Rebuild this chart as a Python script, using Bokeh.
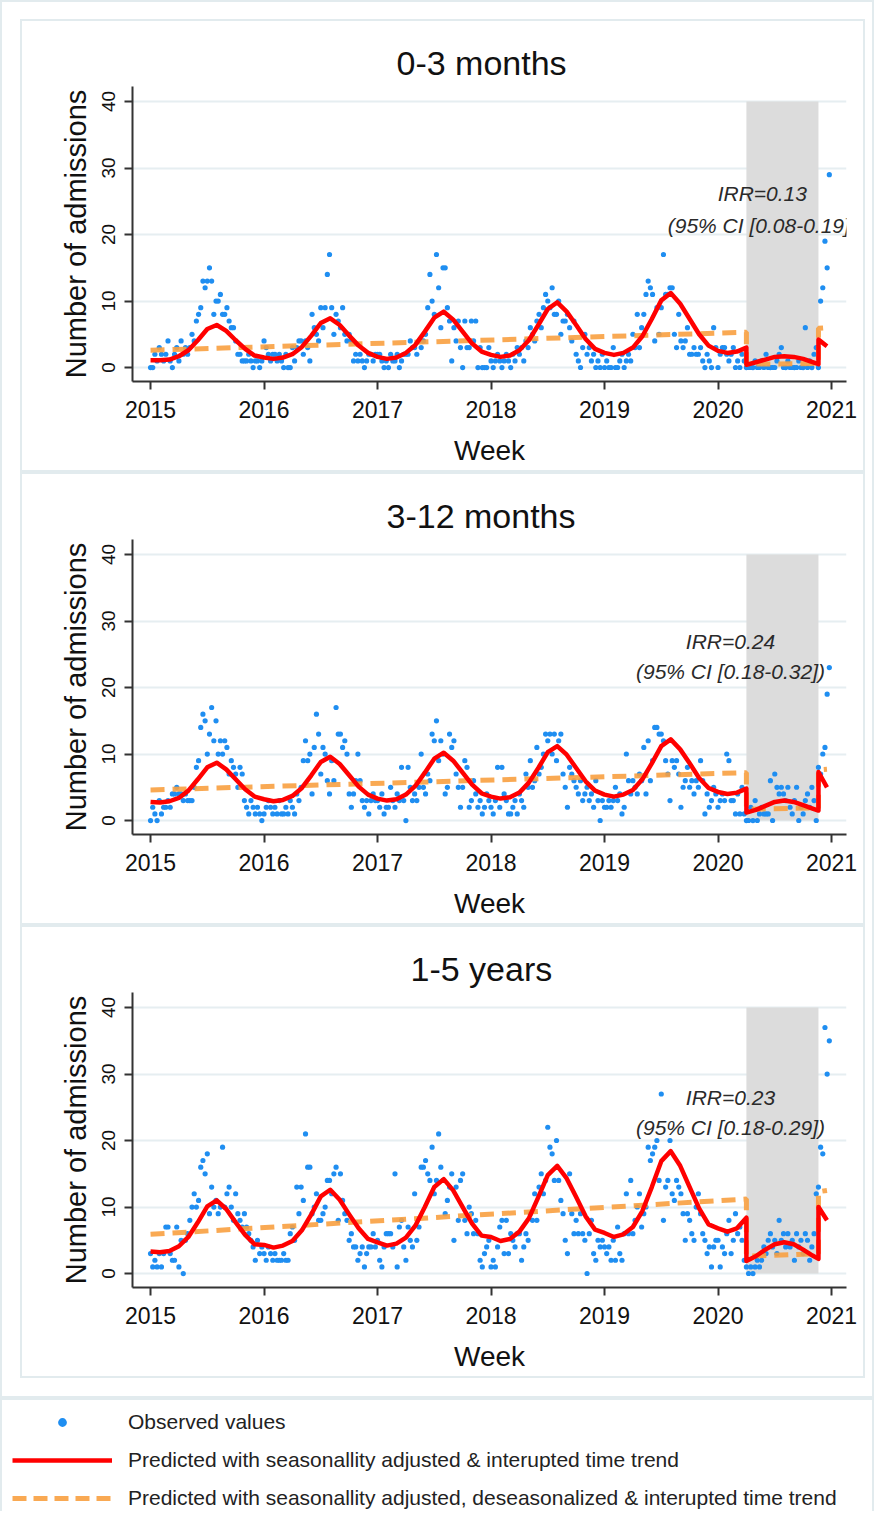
from bokeh.plotting import figure
from bokeh.models import Range1d, Label, Legend, LegendItem, FixedTicker
from bokeh.layouts import column
from bokeh.embed import file_html
from bokeh.resources import INLINE

# ---------------- data ----------------
year_ticks = [2015, 2016, 2017, 2018, 2019, 2020, 2021]
count_ticks = [0, 10, 20, 30, 40]
panel_titles = ["0-3 months", "3-12 months", "1-5 years"]
irr_labels = ["IRR=0.13", "IRR=0.24", "IRR=0.23"]
ci_labels = ["(95% CI [0.08-0.19])", "(95% CI [0.18-0.32])", "(95% CI [0.18-0.29])"]
label_x = [2020.39, 2020.11, 2020.11]
irr_y = [26.2, 26.9, 26.5]
ci_y = [21.4, 22.4, 21.9]
lockdown_start = [2020.25]
lockdown_end = [2020.885]
lockdown_top = [40]
legend_labels = [
    "Observed values",
    "Predicted with seasonallity adjusted & interupted time trend",
    "Predicted with seasonallity adjusted, deseasonalized & interupted time trend",
]

# weekly observed admissions, 2015 week 1 .. 2020 week 52
obs_0_3 = [
    0,0,2,1,3,2,1,2,4,1, 0,2,3,1,4,2,3,2,3,5, 4,7,8,9,13,12,13,15,13,8, 10,10,11,8,8,9,7,6,6,4, 2,2,1,1,1,2,1,0,1,1,0,1,
    4,3,2,1,2,2,1,2,1,0, 2,0,0,3,1,3,4,4,2,4, 3,1,8,6,5,4,9,6,9,14, 17,9,5,8,7,6,9,5,4,5, 4,1,2,1,2,1,0,1,2,2,1,2,
    2,2,1,0,1,0,2,1,1,2, 0,1,2,2,2,4,3,3,2,4, 3,4,5,9,14,10,8,17,12,6, 15,15,9,7,1,6,4,7,3,0, 7,3,3,7,4,7,0,3,0,0,0,3,
    1,0,1,2,1,0,1,2,1,0, 2,1,3,2,3,1,4,3,6,5, 4,7,8,6,9,11,10,9,12,8, 8,10,5,7,7,8,6,4,7,2, 1,0,3,5,2,3,1,2,0,1,0,2,
    0,1,0,0,3,0,0,1,2,0, 1,2,1,5,3,8,3,6,8,11, 13,12,11,4,9,5,9,17,11,11, 12,12,5,3,8,4,3,4,6,2, 2,3,2,2,3,1,0,2,1,0,6,3,
    0,2,3,3,2,1,2,3,0,1, 0,2,1, 0,0,0,0,1,0,0,1,0,2, 0,0,0,0,1,2,3,0,0,1, 0,0,0,0,1,0,0,6,0,1, 0,2,3,0, 10,12,19,15,29,
]
obs_3_12 = [
    0,2,1,0,3,1,2,2,3,2, 4,4,5,4,4,3,4,3,3,3, 5,8,9,14,16,15,10,13,17,12, 15,10,12,10,12,11,7,9,8,7, 5,8,7,3,2,1,3,2,1,2,1,0,
    1,2,3,2,1,2,1,3,1,1, 2,1,3,2,1,4,3,5,9,12, 9,10,4,11,16,13,7,11,10,6, 4,9,6,17,13,13,11,12,10,4, 2,4,6,10,6,3,2,3,1,3,4,3,
    3,2,4,1,2,2,5,3,2,4, 3,8,3,0,8,5,3,4,3,5, 10,5,4,7,6,13,12,15,9,12, 10,4,5,13,11,12,7,5,2,5, 9,8,2,3,6,4,2,3,1,2,4,3,
    2,1,3,8,2,8,4,3,1,1, 2,3,1,4,3,2,7,5,9,5, 6,11,7,8,10,13,12,13,10,13, 9,12,13,7,5,2,8,7,6,5, 4,6,3,4,5,3,4,2,6,3,0,3,
    2,2,3,2,3,5,3,4,1,2, 10,6,4,6,5,4,7,6,11,4, 12,6,9,14,14,13,13,12,9,7, 3,9,8,9,7,2,5,6,8,5, 6,4,6,5,9,6,1,4,2,3,5,4,
    2,3,4,3,10,9,3,3,1,4, 1,5,1, 0,0,2,0,3,0,1,2,1,1, 1,6,0,7,5,4,5,4,3,5, 2,1,3,5,0,2,1,3,4,2, 5,3,0, 8,7,10,11,19,23,
]
obs_1_5 = [
    3,1,2,1,3,1,3,7,7,3, 2,2,7,1,5,0,5,6,8,10, 12,10,11,16,17,15,18,9,13,10, 11,9,10,19,10,12,13,10,8,12, 9,8,7,9,7,6,5,4,2,5,3,4,
    3,2,4,3,2,3,2,2,2,3, 2,2,6,7,5,13,9,13,11,21, 16,16,9,10,12,8,8,9,10,14, 14,12,15,16,8,15,11,9,8,5, 6,4,4,2,3,4,1,3,4,4,6,4,
    5,2,1,4,6,6,6,4,15,1, 7,8,4,2,7,5,4,12,5,7, 16,16,17,15,14,19,12,14,21,16, 14,9,11,13,15,5,13,8,14,15, 8,6,10,9,6,8,6,2,1,3,4,5,
    1,2,1,4,7,8,3,8,3,6, 5,4,6,6,2,4,6,5,9,8, 12,8,13,15,12,14,22,19,18,14, 20,14,11,9,5,3,15,9,6,8, 6,9,6,5,0,6,8,3,2,5,4,5,
    4,3,4,2,5,2,7,3,2,6, 12,6,14,6,8,10,12,7,9,10, 19,17,18,19,20,14,27,8,13,14, 20,12,11,14,13,12,9,5,9,8, 6,5,10,12,9,6,5,3,4,1,4,5,
    5,1,4,3,6,8,3,5,9,6,7,5,2, 1,0,1,0,1,2,1,2,4,3,5,6,4,5,3,8,5,6,4,6,4,5,2,6,4,5,3,6,5,2,4,6,12, 13,19,18,37,30,35,
]

# predicted, seasonally adjusted & interrupted trend (monthly, 2015.00 .. 2020.25)
red_0_3_pre = [
    1.1,1.1,1.2,1.7,2.6,4.1,5.8,6.4,5.5,4.1,2.8,1.8,
    1.5,1.3,1.5,2.0,3.1,4.8,6.7,7.4,6.4,4.8,3.3,2.2,
    1.6,1.3,1.5,2.2,3.4,5.4,7.5,8.4,7.2,5.4,3.6,2.4,
    1.9,1.6,1.8,2.6,4.1,6.4,8.8,9.8,8.4,6.4,4.3,2.8,
    2.2,1.9,2.2,3.0,4.7,7.3,10.1,11.2,9.6,7.3,5.0,3.3,
    2.5,2.2,2.4,3.0,
]
red_3_12_pre = [
    2.8,2.7,2.9,3.4,4.5,6.2,8.0,8.7,7.7,6.2,4.7,3.6,
    3.2,2.9,3.1,3.7,4.9,6.8,8.8,9.6,8.5,6.8,5.1,3.9,
    3.3,3.0,3.2,3.9,5.2,7.2,9.3,10.2,9.0,7.2,5.4,4.1,
    3.6,3.3,3.5,4.2,5.7,7.9,10.3,11.2,9.9,7.9,5.9,4.5,
    3.9,3.6,3.9,4.6,6.2,8.6,11.2,12.2,10.7,8.6,6.4,4.9,
    4.3,4.0,4.2,4.8,
]
red_1_5_pre = [
    3.3,3.2,3.4,4.1,5.5,7.7,10.1,11.0,9.7,7.7,5.8,4.4,
    4.3,3.9,4.2,4.9,6.5,8.9,11.6,12.6,11.1,8.9,6.8,5.2,
    4.7,4.2,4.5,5.4,7.2,10.0,13.0,14.2,12.5,10.0,7.5,5.7,
    5.5,4.9,5.2,6.3,8.3,11.5,14.8,16.2,14.3,11.5,8.6,6.6,
    6.1,5.5,5.9,7.0,9.4,13.0,16.9,18.4,16.2,13.0,9.8,7.4,
    6.8,6.3,6.8,8.4,
]
# after the interruption
red_post_x = [2020.25, 2020.333, 2020.417, 2020.5, 2020.583, 2020.667, 2020.75, 2020.833, 2020.885, 2020.885, 2020.96]
red_0_3_post = [0.4, 0.8, 1.2, 1.6, 1.7, 1.6, 1.3, 0.8, 0.5, 4.2, 3.2]
red_3_12_post = [1.2, 1.6, 2.2, 2.8, 3.0, 2.8, 2.3, 1.8, 1.5, 7.3, 5.0]
red_1_5_post = [1.9, 2.6, 3.6, 4.4, 4.7, 4.4, 3.6, 2.7, 2.2, 10.0, 8.0]

# deseasonalized interrupted trend
trend_x = [2015.0, 2020.25, 2020.25, 2020.885, 2020.885, 2020.96]
trend_0_3 = [2.6, 5.3, 0.5, 0.6, 5.9, 6.0]
trend_3_12 = [4.6, 7.2, 1.7, 1.9, 7.6, 7.7]
trend_1_5 = [5.9, 11.2, 2.6, 3.0, 12.3, 12.5]

# ---------------- styling ----------------
FONT = "Liberation Sans"
BORDER = "2px solid #e2ebee"
DOT = "#1f8ef1"
RED = "#ff0000"
ORANGE = "#f8a040"
TITLE_OFFSETS = [264, 254, 278]   # left-aligned title offsets (px) so titles sit slightly left of centre

red_pre_x = [2015 + k / 12 for k in range(len(red_0_3_pre))]


def make_panel(i, obs, red_pre, red_post, trend):
    week_x = [2015 + w / 52 for w in range(len(obs))]
    p = figure(width=845, height=453,
               x_range=Range1d(2014.841, 2021.132), y_range=Range1d(-2.1, 42.26),
               output_backend="svg", toolbar_location=None,
               min_border_left=110, min_border_right=21,
               min_border_top=65, min_border_bottom=93,
               title=panel_titles[i],
               styles={"border": BORDER})
    p.outline_line_color = None
    p.background_fill_color = "white"
    p.border_fill_color = "white"

    p.title.align = "left"
    p.title.offset = TITLE_OFFSETS[i]
    p.title.text_font = FONT
    p.title.text_font_size = "34px"
    p.title.text_font_style = "normal"
    p.title.text_color = "#111111"
    p.title.standoff = 10

    p.xgrid.visible = False
    p.ygrid.grid_line_color = "#e6eef1"
    p.ygrid.grid_line_width = 2
    p.ygrid.ticker = FixedTicker(ticks=count_ticks)

    for ax in (p.xaxis[0], p.yaxis[0]):
        ax.axis_line_color = "#333333"
        ax.axis_line_width = 2
        ax.major_tick_line_color = "#333333"
        ax.major_tick_line_width = 2
        ax.major_tick_in = 0
        ax.major_tick_out = 8
        ax.minor_tick_line_color = None
        ax.major_label_text_font = FONT
        ax.major_label_text_color = "#111111"
        ax.axis_label_text_font = FONT
        ax.axis_label_text_font_style = "normal"
        ax.axis_label_text_font_size = "28px"
        ax.axis_label_text_color = "#111111"

    p.xaxis.ticker = FixedTicker(ticks=year_ticks)
    p.xaxis.major_label_text_font_size = "23px"
    p.xaxis.major_label_standoff = 11
    p.xaxis.axis_label = "Week"
    p.xaxis.axis_label_standoff = 14

    p.yaxis.ticker = FixedTicker(ticks=count_ticks)
    p.yaxis.major_label_text_font_size = "19px"
    p.yaxis.major_label_orientation = "vertical"
    p.yaxis.major_label_standoff = 9
    p.yaxis.axis_label = "Number of admissions"
    p.yaxis.axis_label_text_font_size = "29px"
    p.yaxis.axis_label_standoff = 8

    p.quad(left=lockdown_start, right=lockdown_end, bottom=[0], top=lockdown_top,
           fill_color="#dcdcdc", line_color=None)
    p.scatter(week_x, obs, size=5.2, marker="circle", color=DOT, line_color=None)
    p.line(trend_x, trend, line_color=ORANGE, line_width=5, line_dash="14 8", line_alpha=0.9)
    p.line(red_pre_x + red_post_x, red_pre + red_post, line_color=RED, line_width=4.5,
           line_join="round")

    for txt, yy in ((irr_labels[i], irr_y[i]), (ci_labels[i], ci_y[i])):
        p.add_layout(Label(x=label_x[i], y=yy, text=txt, text_align="center",
                           text_baseline="middle", text_font=FONT,
                           text_font_style="italic", text_font_size="21px",
                           text_color="#2a2a2a"))
    return p


p1 = make_panel(0, obs_0_3, red_0_3_pre, red_0_3_post, trend_0_3)
p2 = make_panel(1, obs_3_12, red_3_12_pre, red_3_12_post, trend_3_12)
p3 = make_panel(2, obs_1_5, red_1_5_pre, red_1_5_post, trend_1_5)

# ---------------- legend ----------------
lg = figure(width=874, height=113, x_range=Range1d(0, 1), y_range=Range1d(0, 1),
            min_border=0, toolbar_location=None, output_backend="svg",
            x_axis_type=None, y_axis_type=None,
            styles={"border": BORDER, "border-bottom": "none"})
lg.outline_line_color = None
# off-canvas sample glyphs, only used for the legend keys
r_obs = lg.scatter([-5], [-5], size=4.5, marker="circle", color=DOT, line_color=None)
r_red = lg.line([-5, -4], [-5, -5], line_color=RED, line_width=4.5)
r_org = lg.line([-5, -4], [-5, -5], line_color=ORANGE, line_width=5, line_dash="14 7", line_alpha=0.9)
legend = Legend(items=[LegendItem(label=legend_labels[0], renderers=[r_obs]),
                       LegendItem(label=legend_labels[1], renderers=[r_red]),
                       LegendItem(label=legend_labels[2], renderers=[r_org])],
                location=(10, 3), orientation="vertical",
                glyph_width=100, glyph_height=22, label_height=22,
                label_standoff=16, spacing=14, padding=0, margin=0,
                border_line_alpha=0, background_fill_alpha=0,
                label_text_font=FONT, label_text_font_size="21px",
                label_text_color="#222222")
lg.add_layout(legend)

panels = column(p1, p2, p3, spacing=0,
                styles={"border": BORDER, "padding": "17px 7px 18px 18px"})
root = column(panels, lg, spacing=0)

open("out.html", "w").write(file_html(root, INLINE))
